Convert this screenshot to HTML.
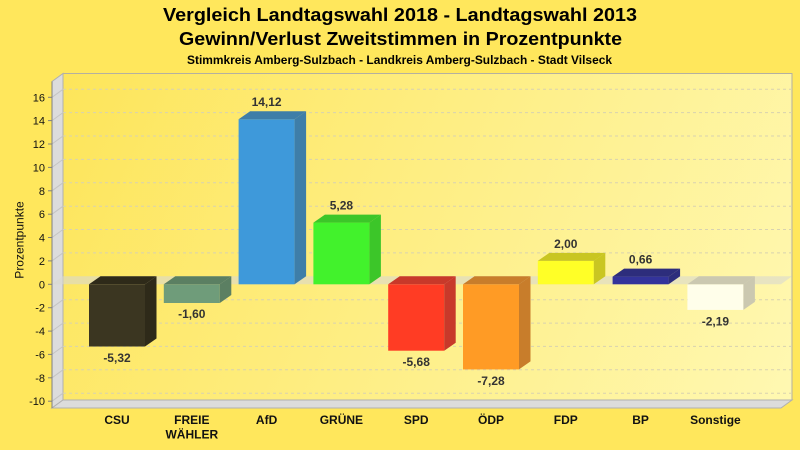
<!DOCTYPE html>
<html><head><meta charset="utf-8"><style>
html,body{margin:0;padding:0;background:#ffe75c;}
svg{display:block;}
text{font-family:"Liberation Sans",Arial,sans-serif;}
</style></head><body>
<svg width="800" height="450" viewBox="0 0 800 450" xmlns="http://www.w3.org/2000/svg">
<defs>
<linearGradient id="wall" x1="63" y1="73.5" x2="792" y2="400" gradientUnits="userSpaceOnUse">
<stop offset="0" stop-color="#fde55a"/>
<stop offset="1" stop-color="#fff8b2"/>
</linearGradient>
</defs>
<rect x="0" y="0" width="800" height="450" fill="#ffe75c"/>
<!-- titles -->
<text x="400" y="21" font-size="18" font-weight="bold" text-anchor="middle" textLength="474" lengthAdjust="spacingAndGlyphs">Vergleich Landtagswahl 2018 - Landtagswahl 2013</text>
<text x="400.5" y="45" font-size="18" font-weight="bold" text-anchor="middle" textLength="443" lengthAdjust="spacingAndGlyphs">Gewinn/Verlust Zweitstimmen in Prozentpunkte</text>
<text x="399.5" y="64" font-size="11.5" font-weight="bold" text-anchor="middle" textLength="425" lengthAdjust="spacingAndGlyphs">Stimmkreis Amberg-Sulzbach - Landkreis Amberg-Sulzbach - Stadt Vilseck</text>

<!-- back wall -->
<rect x="63" y="73.5" width="729" height="326.5" fill="url(#wall)" stroke="#b4b0a0" stroke-width="1"/>
<!-- left wall -->
<polygon points="52,81.5 63,73.5 63,400 52,408" fill="#dcdcdc" stroke="#b0b0b0" stroke-width="1"/>
<!-- floor -->
<polygon points="52,408 63,400 792,400 781,408" fill="#dcdcdc" stroke="#b0b0b0" stroke-width="1"/>

<!-- gridlines -->
<g stroke="#d8d2b0" stroke-width="1" stroke-dasharray="3,3" fill="none">
<line x1="63" y1="89.3" x2="792" y2="89.3"/>
<line x1="63" y1="112.6" x2="792" y2="112.6"/>
<line x1="63" y1="136" x2="792" y2="136"/>
<line x1="63" y1="159.4" x2="792" y2="159.4"/>
<line x1="63" y1="182.8" x2="792" y2="182.8"/>
<line x1="63" y1="206.2" x2="792" y2="206.2"/>
<line x1="63" y1="229.5" x2="792" y2="229.5"/>
<line x1="63" y1="252.9" x2="792" y2="252.9"/>
<line x1="63" y1="299.7" x2="792" y2="299.7"/>
<line x1="63" y1="323.1" x2="792" y2="323.1"/>
<line x1="63" y1="346.4" x2="792" y2="346.4"/>
<line x1="63" y1="369.8" x2="792" y2="369.8"/>
<line x1="63" y1="393.2" x2="792" y2="393.2"/>
</g>
<g stroke="#c4c4c4" stroke-width="1" fill="none">
<line x1="52" y1="97.3" x2="63" y2="89.3"/>
<line x1="52" y1="120.6" x2="63" y2="112.6"/>
<line x1="52" y1="144" x2="63" y2="136"/>
<line x1="52" y1="167.4" x2="63" y2="159.4"/>
<line x1="52" y1="190.8" x2="63" y2="182.8"/>
<line x1="52" y1="214.2" x2="63" y2="206.2"/>
<line x1="52" y1="237.5" x2="63" y2="229.5"/>
<line x1="52" y1="260.9" x2="63" y2="252.9"/>
<line x1="52" y1="307.7" x2="63" y2="299.7"/>
<line x1="52" y1="331.1" x2="63" y2="323.1"/>
<line x1="52" y1="354.4" x2="63" y2="346.4"/>
<line x1="52" y1="377.8" x2="63" y2="369.8"/>
<line x1="52" y1="401.2" x2="63" y2="393.2"/>
</g>

<!-- zero plane -->
<polygon points="52,284.3 63,276.3 792,276.3 781,284.3" fill="#d8d8d0" fill-opacity="0.6"/>

<!-- axis ticks -->
<g stroke="#808080" stroke-width="1">
<line x1="52" y1="81.5" x2="52" y2="408"/>
<line x1="48" y1="97.3" x2="52" y2="97.3"/>
<line x1="48" y1="120.6" x2="52" y2="120.6"/>
<line x1="48" y1="144" x2="52" y2="144"/>
<line x1="48" y1="167.4" x2="52" y2="167.4"/>
<line x1="48" y1="190.8" x2="52" y2="190.8"/>
<line x1="48" y1="214.2" x2="52" y2="214.2"/>
<line x1="48" y1="237.5" x2="52" y2="237.5"/>
<line x1="48" y1="260.9" x2="52" y2="260.9"/>
<line x1="48" y1="284.3" x2="52" y2="284.3"/>
<line x1="48" y1="307.7" x2="52" y2="307.7"/>
<line x1="48" y1="331.1" x2="52" y2="331.1"/>
<line x1="48" y1="354.4" x2="52" y2="354.4"/>
<line x1="48" y1="377.8" x2="52" y2="377.8"/>
<line x1="48" y1="401.2" x2="52" y2="401.2"/>
</g>
<g font-size="11" fill="#111" text-anchor="end">
<text x="45" y="101.3">16</text>
<text x="45" y="124.6">14</text>
<text x="45" y="148">12</text>
<text x="45" y="171.4">10</text>
<text x="45" y="194.8">8</text>
<text x="45" y="218.2">6</text>
<text x="45" y="241.5">4</text>
<text x="45" y="264.9">2</text>
<text x="45" y="288.3">0</text>
<text x="45" y="311.7">-2</text>
<text x="45" y="335.1">-4</text>
<text x="45" y="358.4">-6</text>
<text x="45" y="381.8">-8</text>
<text x="45" y="405.2">-10</text>
</g>
<text x="0" y="0" font-size="12" fill="#111" text-anchor="middle" transform="translate(23.5,240) rotate(-90)">Prozentpunkte</text>

<!-- bars -->
<!-- CSU -->
<rect x="89" y="284.3" width="56" height="62.2" fill="#3b3621"/>
<polygon points="89,284.3 100.5,276.3 156.5,276.3 145,284.3" fill="#2e2a19"/>
<polygon points="145,284.3 156.5,276.3 156.5,338.5 145,346.5" fill="#2e2a19"/>
<!-- FW -->
<rect x="163.8" y="284.3" width="56" height="18.7" fill="#6f9c7a"/>
<polygon points="163.8,284.3 175.3,276.3 231.3,276.3 219.8,284.3" fill="#5b7f62"/>
<polygon points="219.8,284.3 231.3,276.3 231.3,295 219.8,303" fill="#5b7f62"/>
<!-- AfD -->
<rect x="238.6" y="119.2" width="56" height="165.1" fill="#3e99da"/>
<polygon points="238.6,119.2 250.1,111.2 306.1,111.2 294.6,119.2" fill="#3e7ea8"/>
<polygon points="294.6,119.2 306.1,111.2 306.1,276.3 294.6,284.3" fill="#3e7ea8"/>
<!-- GRUENE -->
<rect x="313.4" y="222.6" width="56" height="61.7" fill="#42f22c"/>
<polygon points="313.4,222.6 324.9,214.6 380.9,214.6 369.4,222.6" fill="#3cc629"/>
<polygon points="369.4,222.6 380.9,214.6 380.9,276.3 369.4,284.3" fill="#3cc629"/>
<!-- SPD -->
<rect x="388.2" y="284.3" width="56" height="66.4" fill="#ff3c24"/>
<polygon points="388.2,284.3 399.7,276.3 455.7,276.3 444.2,284.3" fill="#c8392a"/>
<polygon points="444.2,284.3 455.7,276.3 455.7,342.7 444.2,350.7" fill="#c8392a"/>
<!-- ODP -->
<rect x="463" y="284.3" width="56" height="85.1" fill="#ff9b25"/>
<polygon points="463,284.3 474.5,276.3 530.5,276.3 519,284.3" fill="#c87d2b"/>
<polygon points="519,284.3 530.5,276.3 530.5,361.4 519,369.4" fill="#c87d2b"/>
<!-- FDP -->
<rect x="537.8" y="260.9" width="56" height="23.4" fill="#ffff27"/>
<polygon points="537.8,260.9 549.3,252.9 605.3,252.9 593.8,260.9" fill="#c9c622"/>
<polygon points="593.8,260.9 605.3,252.9 605.3,276.3 593.8,284.3" fill="#c9c622"/>
<!-- BP -->
<rect x="612.6" y="276.6" width="56" height="7.7" fill="#33339b"/>
<polygon points="612.6,276.6 624.1,268.6 680.1,268.6 668.6,276.6" fill="#2d2d7c"/>
<polygon points="668.6,276.6 680.1,268.6 680.1,276.3 668.6,284.3" fill="#2d2d7c"/>
<!-- Sonstige -->
<rect x="687.4" y="284.3" width="56" height="25.6" fill="#fffeea"/>
<polygon points="687.4,284.3 698.9,276.3 754.9,276.3 743.4,284.3" fill="#cbc8b0"/>
<polygon points="743.4,284.3 754.9,276.3 754.9,301.9 743.4,309.9" fill="#cbc8b0"/>

<!-- value labels -->
<g font-size="12" font-weight="bold" fill="#333" text-anchor="middle">
<text x="117" y="362">-5,32</text>
<text x="191.8" y="318">-1,60</text>
<text x="266.6" y="106.2">14,12</text>
<text x="341.4" y="209.6">5,28</text>
<text x="416.2" y="366.2">-5,68</text>
<text x="491" y="384.9">-7,28</text>
<text x="565.8" y="247.9">2,00</text>
<text x="640.6" y="263.6">0,66</text>
<text x="715.4" y="325.4">-2,19</text>
</g>

<!-- category labels -->
<g font-size="12" font-weight="bold" fill="#111" text-anchor="middle">
<text x="117" y="424">CSU</text>
<text x="191.8" y="424">FREIE</text>
<text x="191.8" y="438.5">WÄHLER</text>
<text x="266.6" y="424">AfD</text>
<text x="341.4" y="424">GRÜNE</text>
<text x="416.2" y="424">SPD</text>
<text x="491" y="424">ÖDP</text>
<text x="565.8" y="424">FDP</text>
<text x="640.6" y="424">BP</text>
<text x="715.4" y="424">Sonstige</text>
</g>
</svg>
</body></html>
